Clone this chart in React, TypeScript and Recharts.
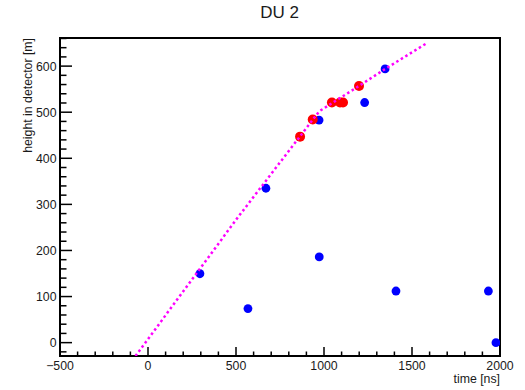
import React from "react";
import { ScatterChart, Scatter, XAxis, YAxis, ReferenceArea } from "recharts";

// Hits in the detector unit: blue = all hits, red = hits selected for the track
const blueTimes = [295, 568, 670, 973, 972, 1231, 1347, 1409, 1934, 1977];
const blueHeights = [149.5, 74, 335, 186, 483, 521, 594, 112, 112, 0];
const redTimes = [864, 936, 1045, 1091, 1108, 1199];
const redHeights = [447, 484, 521, 521, 521, 557];

// Expected arrival time curve (dotted)
const fitTimes = [-71, 513, 973, 1199, 1348, 1589];
const fitHeights = [-29, 273, 502, 557, 594, 651];

const xTicks = [
  -500, -400, -300, -200, -100, 0, 100, 200, 300, 400, 500, 600, 700, 800, 900,
  1000, 1100, 1200, 1300, 1400, 1500, 1600, 1700, 1800, 1900, 2000,
];
const xLabels = [-500, 0, 500, 1000, 1500, 2000];
const yTicks = [
  -20, 0, 20, 40, 60, 80, 100, 120, 140, 160, 180, 200, 220, 240, 260, 280, 300,
  320, 340, 360, 380, 400, 420, 440, 460, 480, 500, 520, 540, 560, 580, 600,
  620, 640, 660,
];
const yLabels = [0, 100, 200, 300, 400, 500, 600];

const toPoints = (xs: number[], ys: number[]) =>
  xs.map((x, i) => ({ x, y: ys[i] }));

const bluePoints = toPoints(blueTimes, blueHeights);
const redPoints = toPoints(redTimes, redHeights);
const fitPoints = toPoints(fitTimes, fitHeights);

const FONT = '"Liberation Sans", Arial, Helvetica, sans-serif';
const TEXT = "#1a1a1a";

const fmt = (v: number) => (v < 0 ? "\u2212" + Math.abs(v) : String(v));

// ticks point into the frame, labels only on the major ones
const renderXTick = (props: any) => {
  const { x, y, payload } = props;
  const major = xLabels.includes(payload.value);
  return (
    <g>
      <line
        x1={x}
        y1={y}
        x2={x}
        y2={y - (major ? 9 : 4.5)}
        stroke="#000"
        strokeWidth={1.5}
      />
      {major && (
        <text
          x={x}
          y={y + 14}
          textAnchor="middle"
          fontSize={12.3}
          fontFamily={FONT}
          fill={TEXT}
        >
          {fmt(payload.value)}
        </text>
      )}
    </g>
  );
};

const renderYTick = (props: any) => {
  const { x, y, payload } = props;
  const major = yLabels.includes(payload.value);
  return (
    <g>
      <line
        x1={x}
        y1={y}
        x2={x + (major ? 12 : 6.5)}
        y2={y}
        stroke="#000"
        strokeWidth={1.5}
      />
      {major && (
        <text
          x={x - 3.5}
          y={y + 4.4}
          textAnchor="end"
          fontSize={12.3}
          fontFamily={FONT}
          fill={TEXT}
        >
          {fmt(payload.value)}
        </text>
      )}
    </g>
  );
};

const dot = (r: number, color: string) => (props: any) =>
  <circle cx={props.cx} cy={props.cy} r={r} fill={color} />;

export default function App() {
  return (
    <div
      style={{
        position: "absolute",
        left: 0,
        top: 0,
        width: 525,
        height: 390,
        background: "#fff",
        fontFamily: FONT,
      }}
    >
      <ScatterChart
        width={525}
        height={390}
        margin={{ top: 38, right: 25, bottom: 4, left: 0 }}
      >
        <XAxis
          type="number"
          dataKey="x"
          domain={[-500, 2000]}
          ticks={xTicks}
          interval={0}
          tickLine={false}
          axisLine={false}
          tickSize={0}
          tickMargin={0}
          tick={renderXTick}
          height={30}
          allowDataOverflow
        />
        <YAxis
          type="number"
          dataKey="y"
          domain={[-29, 661]}
          ticks={yTicks}
          interval={0}
          tickLine={false}
          axisLine={false}
          tickSize={0}
          tickMargin={0}
          tick={renderYTick}
          width={60}
          allowDataOverflow
        />
        <ReferenceArea
          x1={-500}
          x2={2000}
          y1={-29}
          y2={661}
          ifOverflow="visible"
          fill="none"
          stroke="#000"
          strokeWidth={2}
        />
        <Scatter
          data={bluePoints}
          shape={dot(4.4, "#0000ff")}
          isAnimationActive={false}
        />
        <Scatter
          data={redPoints}
          shape={dot(5, "#ff0000")}
          isAnimationActive={false}
        />
        <Scatter
          data={fitPoints}
          shape={() => <g />}
          line={{
            stroke: "#ff00ff",
            strokeWidth: 2.5,
            strokeDasharray: "2.5 2.8",
          }}
          lineJointType="linear"
          isAnimationActive={false}
        />
      </ScatterChart>
      <svg
        width={525}
        height={390}
        style={{ position: "absolute", left: 0, top: 0, pointerEvents: "none" }}
      >
        <text
          x={279.5}
          y={18}
          textAnchor="middle"
          fontSize={17}
          fontFamily={FONT}
          fill={TEXT}
        >
          DU 2
        </text>
        <text
          x={500}
          y={383}
          textAnchor="end"
          fontSize={12.3}
          fontFamily={FONT}
          fill={TEXT}
        >
          time [ns]
        </text>
        <text
          transform="translate(32, 38) rotate(-90)"
          textAnchor="end"
          fontSize={12.3}
          fontFamily={FONT}
          fill={TEXT}
        >
          height in detector [m]
        </text>
      </svg>
    </div>
  );
}
